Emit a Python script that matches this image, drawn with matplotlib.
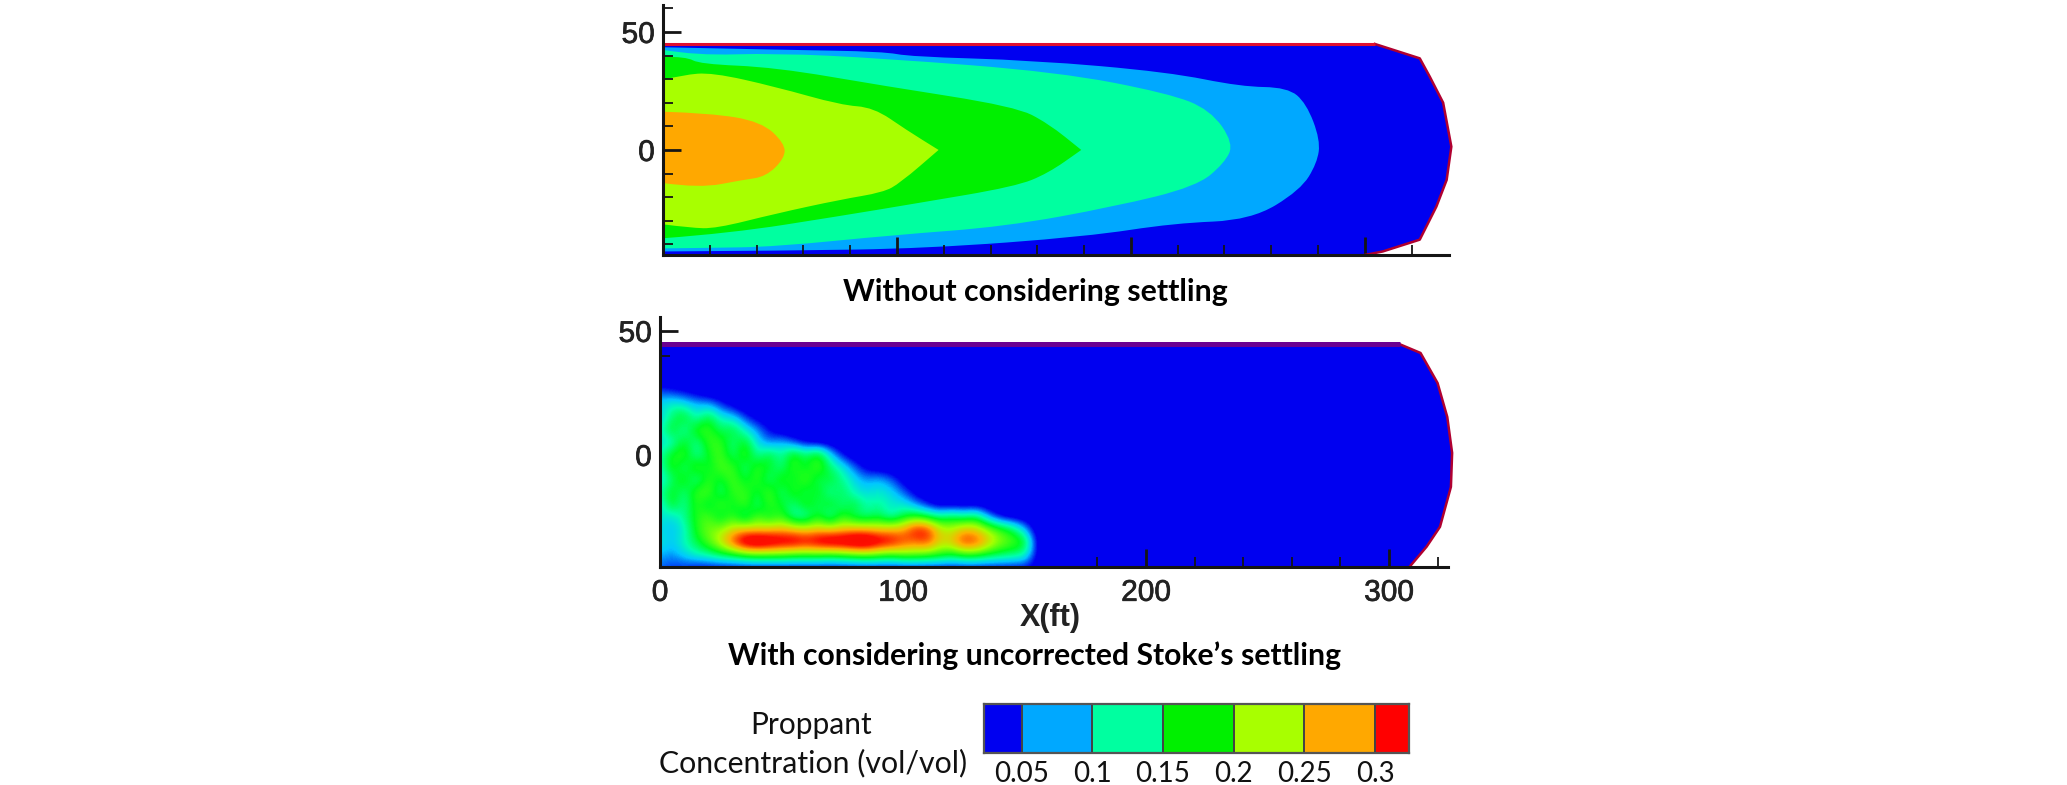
import numpy as np
import matplotlib
matplotlib.use("Agg")
import matplotlib.pyplot as plt
import matplotlib.patheffects as pe
from matplotlib.path import Path
from matplotlib.patches import PathPatch
from matplotlib.colors import LinearSegmentedColormap, ListedColormap, BoundaryNorm

W, H = 2067, 785

# ---------- data ----------
level_edges = [0.0234, 0.05, 0.1, 0.15, 0.2, 0.25, 0.3, 0.324]
level_colors = ["#0000f0", "#00a8ff", "#00ffa0", "#00f000", "#a8ff00", "#ffa800", "#ff0000"]
legend_ticks = [0.05, 0.1, 0.15, 0.2, 0.25, 0.3]
legend_labels = ["0.05", "0.1", "0.15", "0.2", "0.25", "0.3"]

top_domain = [(0, 44.9), (304.3, 44.9), (323.5, 38.8), (327.8, 31), (333.5, 20), (337, 1.4), (335, -12.7),
              (330.6, -24), (323.5, -38), (307.7, -43), (300, -44.5), (0, -44.5)]
top_c1 = [(0, 43.5), (52, 42.4), (94, 41.7), (106, 39.5), (158, 38), (216, 33), (247, 26.8), (267, 26.5),
          (275, 19.8), (281, 4.2), (279.6, -5.6), (272.5, -17), (251.4, -29.7), (218.6, -31), (181, -36.7),
          (113, -41.7), (52, -42.7), (0, -43)]
top_c2 = [(0, 42.4), (14, 40), (48, 41), (94, 38.8), (169, 33), (216, 24), (234, 17), (244, 2.8), (240, -5.6),
          (228, -15.5), (193, -24), (146, -32.5), (99, -36), (48, -41), (19, -41.5), (0, -41.7)]
top_c3 = [(0, 39.5), (10, 39.5), (15.6, 36.4), (48, 35), (94, 27.2), (150.6, 18.4), (164.6, 11.3), (178.8, 0),
          (178.8, 0), (164.6, -9.9), (150.6, -15.5), (108.4, -22.6), (75.6, -28), (28.7, -35.3), (0, -37.4)]
top_c4 = [(0, 29.7), (8.6, 31.8), (21, 32.8), (48, 26.8), (76, 19), (90, 18), (104, 8.5), (117.8, 0), (117.8, 0),
          (101.4, -14), (94, -18), (76, -21), (48, -27), (22.6, -33.3), (11.7, -33), (0, -31.5)]
top_c5 = [(0, 16.2), (20, 15.6), (42, 12), (52, 2.8), (52, -3.5), (44, -11.3), (34, -12.7), (15.6, -16.2), (0, -14)]
top_contours = [top_c1, top_c2, top_c3, top_c4, top_c5]

bot_domain = [(0, 44.6), (304.5, 44.6), (313, 41.1), (320, 29), (324, 15.3), (326, 0.8), (325.5, -12.9),
              (321, -29), (315.5, -37), (308.6, -45), (0, -45)]

bot_x_step = 5
bot_y = [30, 25, 20, 15, 10, 5, 0, -5, -10, -15, -20, -25, -30, -35, -40, -45]
# concentration in hundredths of vol/vol; columns at x = 0, 5, 10, ... ft, read left to right until background
bot_conc_rows = [
 [3],
 [7, 6, 5, 4],
 [10, 12, 11, 9, 9, 6, 4],
 [9, 14, 17, 11, 16, 11, 10, 6, 4],
 [11, 17, 11, 18, 18, 14, 16, 11, 8, 5],
 [10, 11, 17, 12, 18, 18, 13, 17, 10, 7, 9, 6, 4],
 [12, 17, 18, 12, 16, 19, 13, 19, 12, 16, 12, 18, 14, 18, 10, 5],
 [11, 18, 13, 19, 15, 19, 18, 13, 18, 16, 13, 18, 15, 19, 14, 11, 7, 4],
 [10, 14, 18, 12, 18, 15, 19, 15, 18, 13, 18, 15, 19, 14, 16, 13, 10, 8, 9, 7, 4],
 [12, 17, 13, 18, 19, 13, 18, 18, 15, 19, 13, 18, 14, 17, 12, 15, 11, 10, 11, 10, 7, 4],
 [10, 17, 12, 18, 14, 19, 15, 19, 13, 18, 16, 13, 18, 14, 17, 13, 16, 12, 13, 11, 11, 8, 5],
 [11, 10, 13, 17, 19, 14, 18, 12, 19, 15, 18, 12, 11, 17, 11, 18, 14, 13, 15, 11, 15, 17, 15, 13, 15, 13, 15, 8, 4],
 [10, 9, 11, 17, 20, 21, 24, 25, 24, 25, 26, 25, 24, 25, 24, 25, 26, 26, 25, 26, 27, 34, 33, 24, 22, 26, 25, 21, 18, 15, 9],
 [11, 9, 12, 15, 19, 24, 32, 40, 42, 40, 38, 38, 36, 38, 40, 40, 42, 42, 38, 36, 32, 30, 32, 25, 26, 33, 32, 26, 21, 19, 17, 4],
 [9, 8, 10, 12, 13, 15, 16, 18, 19, 19, 19, 18, 18, 18, 17, 18, 19, 20, 19, 18, 20, 20, 19, 18, 16, 18, 18, 16, 15, 14, 13, 4],
 [7, 6, 6, 5, 5, 5, 5, 5, 5, 5, 5, 5, 5, 5, 5, 5, 5, 5, 5, 5, 5, 5, 5, 5, 5, 5, 5, 5, 5, 5, 5, 4],
]
background_conc = 3
smooth_stops = [(0.03, "#0000f0"), (0.05, "#0000f0"), (0.09, "#00c8ff"), (0.12, "#00ffb0"), (0.16, "#00ff20"),
                (0.22, "#a8ff00"), (0.27, "#ffb000"), (0.33, "#ff1000"), (0.44, "#f00000")]

# ---------- layout ----------
fig = plt.figure(figsize=(W / 100, H / 100), dpi=100, facecolor="white")
SANS = "Liberation Sans"
CAP = "Lato"


def axes_px(x0, x1, y0, y1):
    return fig.add_axes([x0 / W, 1 - y1 / H, (x1 - x0) / W, (y1 - y0) / H])


def rounded_path(pts):
    """Closed quadratic path whose control points are the contour vertices."""
    pts = np.asarray(pts, float)
    verts = [tuple(pts[0])]
    codes = [Path.MOVETO]
    for i in range(1, len(pts) - 1):
        end = pts[-1] if i == len(pts) - 2 else (pts[i] + pts[i + 1]) / 2
        verts += [tuple(pts[i]), tuple(end)]
        codes += [Path.CURVE3, Path.CURVE3]
    verts.append(tuple(pts[0]))
    codes.append(Path.CLOSEPOLY)
    return Path(verts, codes)


def style(ax, xlim, ylim, xlabels):
    ax.set_xlim(*xlim)
    ax.set_ylim(*ylim)
    for s in ("top", "right"):
        ax.spines[s].set_visible(False)
    for s in ("left", "bottom"):
        ax.spines[s].set_linewidth(2.2)
        ax.spines[s].set_color("#151515")
        ax.spines[s].set_zorder(10)
    ax.set_xticks([0, 100, 200, 300])
    ax.set_xticks(np.arange(0, xlim[1], 20), minor=True)
    ax.set_yticks([0, 50])
    ax.set_yticks(np.arange(-40, ylim[1], 10), minor=True)
    ax.tick_params(which="major", direction="in", length=13, width=2, color="#151515", zorder=11,
                   labelsize=21.5, labelcolor="#222222", pad=6)
    ax.tick_params(which="minor", direction="in", length=7.5, width=1.3, color="#151515", zorder=11)
    ax.tick_params(axis="x", labelbottom=xlabels, pad=8.5)
    for t in ax.get_xticklabels() + ax.get_yticklabels():
        t.set_fontfamily(SANS)
        t.set_path_effects([pe.withStroke(linewidth=0.5, foreground="#222222")])
    ax.set_axisbelow(False)
    ax.patch.set_alpha(0)


def domain(ax, pts, edge, top_color, top_lw):
    ax.fill(*zip(*pts), facecolor=level_colors[0], edgecolor="none", zorder=1, clip_on=False)
    ax.plot(*zip(*pts[1:-1]), color=edge, lw=1.8, zorder=6, clip_on=False)
    ax.plot(*zip(*pts[:2]), color=top_color, lw=top_lw, zorder=6, solid_capstyle="butt")


# top panel
ax1 = axes_px(663, 1449, 5, 255)
style(ax1, (0, 336), (-44.5, 61.4), False)
domain(ax1, top_domain, "#b00030", "#e01030", 2.2)
for pts, col in zip(top_contours, level_colors[1:]):
    ax1.add_patch(PathPatch(rounded_path(pts), facecolor=col, edgecolor="none", zorder=2))

# bottom panel
ax2 = axes_px(660, 1448, 317, 567)
style(ax2, (0, 324.3), (-45.2, 55.6), True)
domain(ax2, bot_domain, "#b00030", "#6a0090", 3.6)
n_cols = max(len(r) for r in bot_conc_rows) + 2
bot_conc = np.array([r + [background_conc] * (n_cols - len(r)) for r in bot_conc_rows]) / 100.0
vmin, vmax = smooth_stops[0][0], smooth_stops[-1][0]
smooth_cmap = LinearSegmentedColormap.from_list(
    "conc", [((v - vmin) / (vmax - vmin), c) for v, c in smooth_stops])
x_end = (n_cols - 1) * bot_x_step
ax2.imshow(bot_conc, extent=(-bot_x_step / 2, x_end + bot_x_step / 2, bot_y[-1] - 2.5, bot_y[0] + 2.5),
           cmap=smooth_cmap, vmin=vmin, vmax=vmax, interpolation="bicubic", aspect="auto", zorder=3)
ax2.set_xlim(0, 324.3)
ax2.set_ylim(-45.2, 55.6)

# legend bar
ax3 = axes_px(984, 1409, 704, 753)
ax3.pcolormesh(level_edges, [0, 1], np.arange(7).reshape(1, -1), cmap=ListedColormap(level_colors),
               norm=BoundaryNorm(np.arange(-0.5, 7.5), 7), edgecolors="#444444", linewidth=1.3)
ax3.set_xlim(level_edges[0], level_edges[-1])
ax3.set_yticks([])
ax3.set_xticks(legend_ticks, legend_labels, fontfamily=CAP, fontsize=20, color="#111111")
ax3.tick_params(axis="x", length=0, pad=6)
for s in ax3.spines.values():
    s.set_color("#555555")
    s.set_linewidth(1.6)


def txt(px, py, s, **kw):
    fig.text(px / W, 1 - py / H, s, ha="center", va="center", **kw)


txt(1035, 292, "Without considering settling", family=CAP, weight="bold", fontsize=21.8, color="black")
txt(1035, 656, "With considering uncorrected Stoke\u2019s settling", family=CAP, weight="bold", fontsize=21.7, color="black")
txt(1050, 618, "X(ft)", family=SANS, weight="bold", fontsize=22, color="#222222")
txt(811, 725, "Proppant", family=CAP, fontsize=21.5, color="#111111")
txt(813, 763, "Concentration (vol/vol)", family=CAP, fontsize=21.8, color="#111111")

fig.savefig("out.png", dpi=100)
